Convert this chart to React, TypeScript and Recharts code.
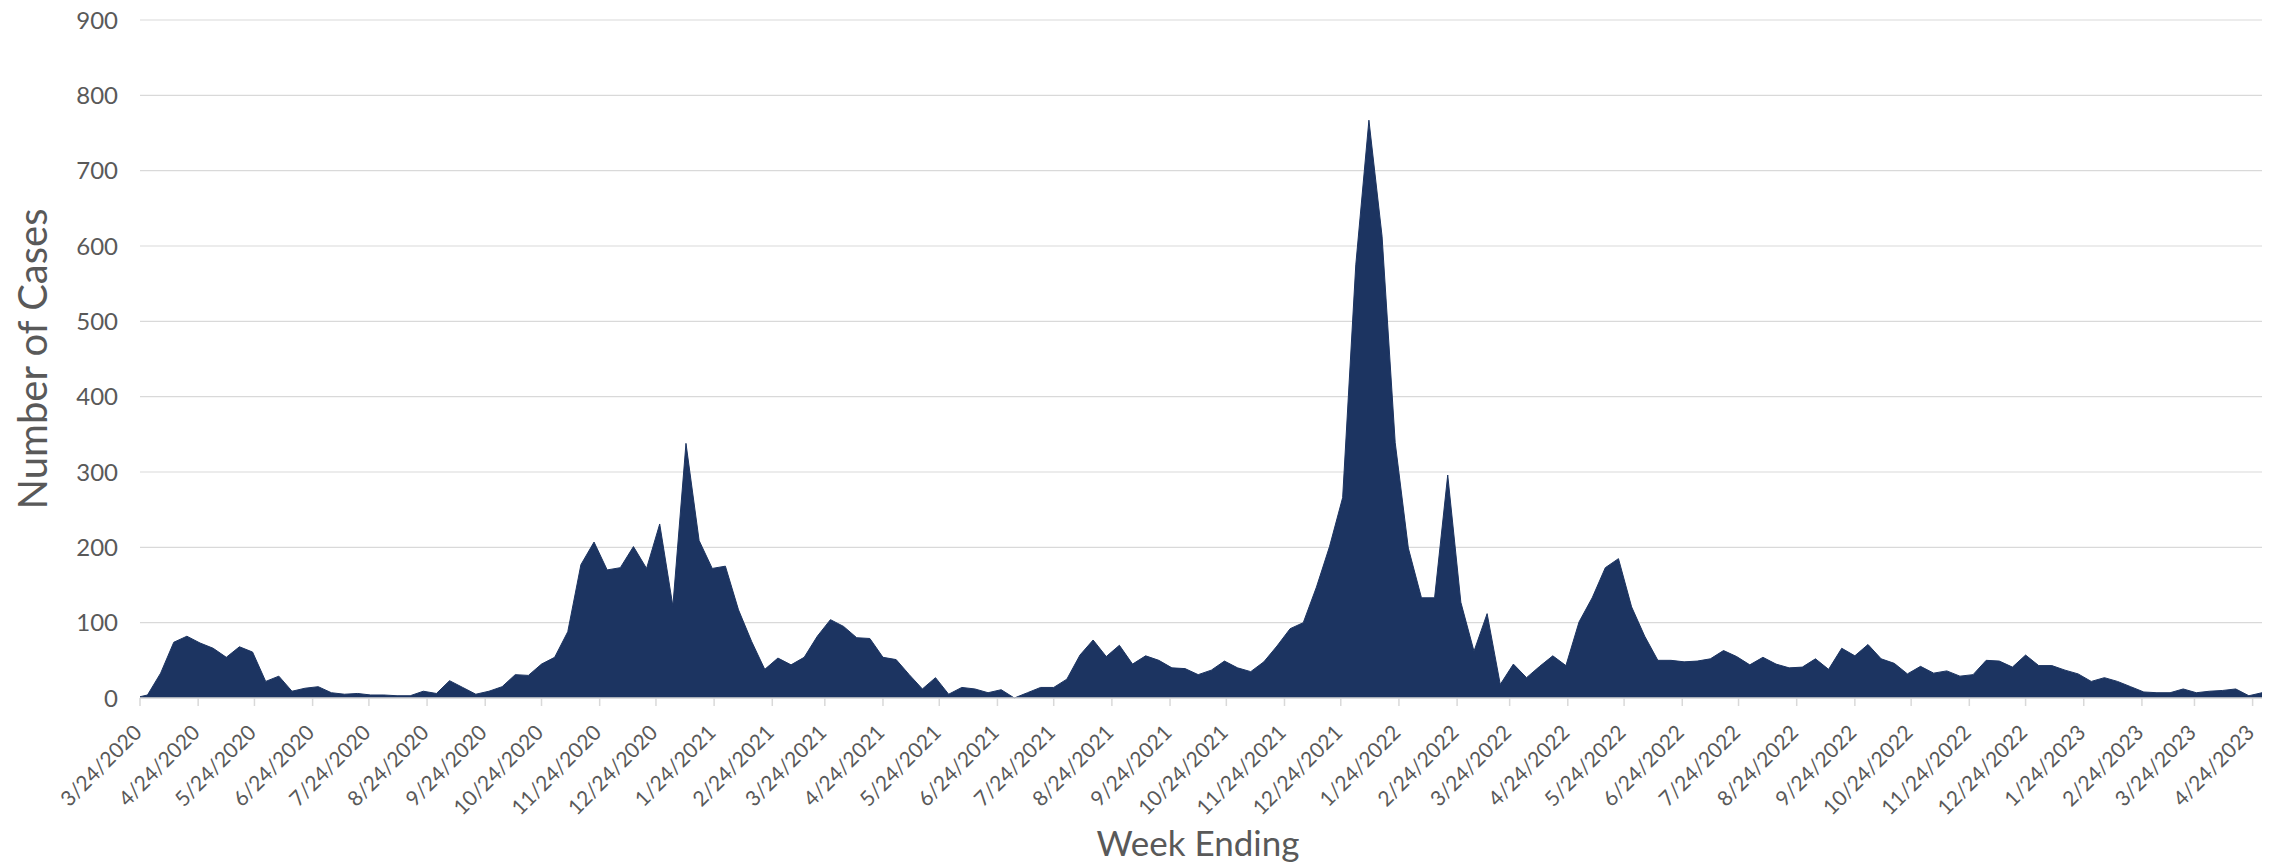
import { AreaChart, Area, XAxis, YAxis, CartesianGrid } from 'recharts'

// weekly counts, week ending dates start 3/21/2020
const FIRST_WEEK_ENDING = '3/21/2020'

const WEEKLY_CASES = [
  0, 4, 33, 74, 82, 73, 66, 54, 68, 61,
  22, 29, 9, 13, 15, 7, 5, 6, 4, 4,
  3, 3, 9, 6, 23, 14, 5, 9, 15, 31,
  30, 45, 54, 88, 177, 207, 170, 173, 201, 172,
  231, 122, 338, 209, 172, 175, 117, 75, 38, 53,
  44, 54, 82, 104, 95, 80, 79, 54, 51, 31,
  12, 27, 5, 14, 12, 7, 11, 0, 7, 14,
  14, 25, 57, 77, 55, 70, 45, 56, 50, 40,
  39, 31, 37, 49, 40, 35, 48, 69, 92, 100,
  147, 201, 266, 575, 767, 613, 339, 199, 133, 133,
  296, 127, 62, 112, 18, 45, 27, 42, 56, 43,
  101, 133, 173, 185, 121, 82, 50, 50, 48, 49,
  52, 63, 55, 44, 54, 45, 40, 41, 52, 38,
  66, 56, 71, 52, 46, 32, 42, 33, 36, 29,
  31, 50, 49, 41, 57, 43, 43, 37, 32, 22,
  27, 22, 15, 8, 7, 7, 12, 7, 9, 10,
  12, 3, 7,
]

const MONTH_TICKS = [
  '3/24/2020', '4/24/2020', '5/24/2020', '6/24/2020', '7/24/2020', '8/24/2020',
  '9/24/2020', '10/24/2020', '11/24/2020', '12/24/2020',
  '1/24/2021', '2/24/2021', '3/24/2021', '4/24/2021', '5/24/2021', '6/24/2021',
  '7/24/2021', '8/24/2021', '9/24/2021', '10/24/2021', '11/24/2021', '12/24/2021',
  '1/24/2022', '2/24/2022', '3/24/2022', '4/24/2022', '5/24/2022', '6/24/2022',
  '7/24/2022', '8/24/2022', '9/24/2022', '10/24/2022', '11/24/2022', '12/24/2022',
  '1/24/2023', '2/24/2023', '3/24/2023', '4/24/2023',
]

const CASE_TICKS = [0, 100, 200, 300, 400, 500, 600, 700, 800, 900]

const X_TITLE = 'Week Ending'
const Y_TITLE = 'Number of Cases'

const FONT = 'Lato, "Open Sans", sans-serif'
const TEXT = '#595959'
const GRID = '#d9d9d9'
const NAVY = '#1c3461'
const DAY = 24 * 60 * 60 * 1000

function parseDate(s: string) {
  const [m, d, y] = s.split('/').map(Number)
  return Date.UTC(y, m - 1, d)
}

function formatDate(t: number) {
  const d = new Date(t)
  return `${d.getUTCMonth() + 1}/${d.getUTCDate()}/${d.getUTCFullYear()}`
}

const start = parseDate(FIRST_WEEK_ENDING)
const data = WEEKLY_CASES.map((cases, i) => ({ week: start + i * 7 * DAY, cases }))
const monthTicks = MONTH_TICKS.map(parseDate)

function DateTick(props: any) {
  const { x, y, payload } = props
  return (
    <text
      transform={`translate(${x + 3}, ${y + 26}) rotate(-45)`}
      textAnchor="end"
      fill={TEXT}
      fontSize={21}
      fontFamily={FONT}
    >
      {formatDate(payload.value)}
    </text>
  )
}

export default function App() {
  return (
    <div style={{ position: 'absolute', left: 0, top: 0, width: 2280, height: 863, background: '#fff' }}>
      <AreaChart
        width={2280}
        height={863}
        data={data}
        margin={{ top: 20, right: 18, bottom: 0, left: 0 }}
      >
        <CartesianGrid vertical={false} stroke={GRID} strokeWidth={1.2} />
        <XAxis
          dataKey="week"
          type="number"
          domain={[monthTicks[0], data[data.length - 1].week]}
          allowDataOverflow
          ticks={monthTicks}
          interval={0}
          tick={<DateTick />}
          tickSize={8}
          axisLine={{ stroke: GRID, strokeWidth: 1.5 }}
          tickLine={{ stroke: GRID, strokeWidth: 1.5 }}
          height={165}
          label={() => (
            <text x={1198} y={856} textAnchor="middle" fill={TEXT} fontSize={35} fontFamily={FONT}>
              {X_TITLE}
            </text>
          )}
        />
        <YAxis
          width={140}
          domain={[0, 900]}
          ticks={CASE_TICKS}
          interval={0}
          axisLine={false}
          tickLine={false}
          tickSize={0}
          tickMargin={22}
          tick={{ fill: TEXT, fontSize: 24, fontFamily: FONT }}
          label={() => (
            <text
              transform="translate(47, 359) rotate(-90)"
              textAnchor="middle"
              fill={TEXT}
              fontSize={40}
              fontFamily={FONT}
            >
              {Y_TITLE}
            </text>
          )}
        />
        <Area
          dataKey="cases"
          type="linear"
          fill={NAVY}
          fillOpacity={1}
          stroke={NAVY}
          strokeWidth={1}
          dot={false}
          activeDot={false}
          isAnimationActive={false}
        />
      </AreaChart>
    </div>
  )
}
